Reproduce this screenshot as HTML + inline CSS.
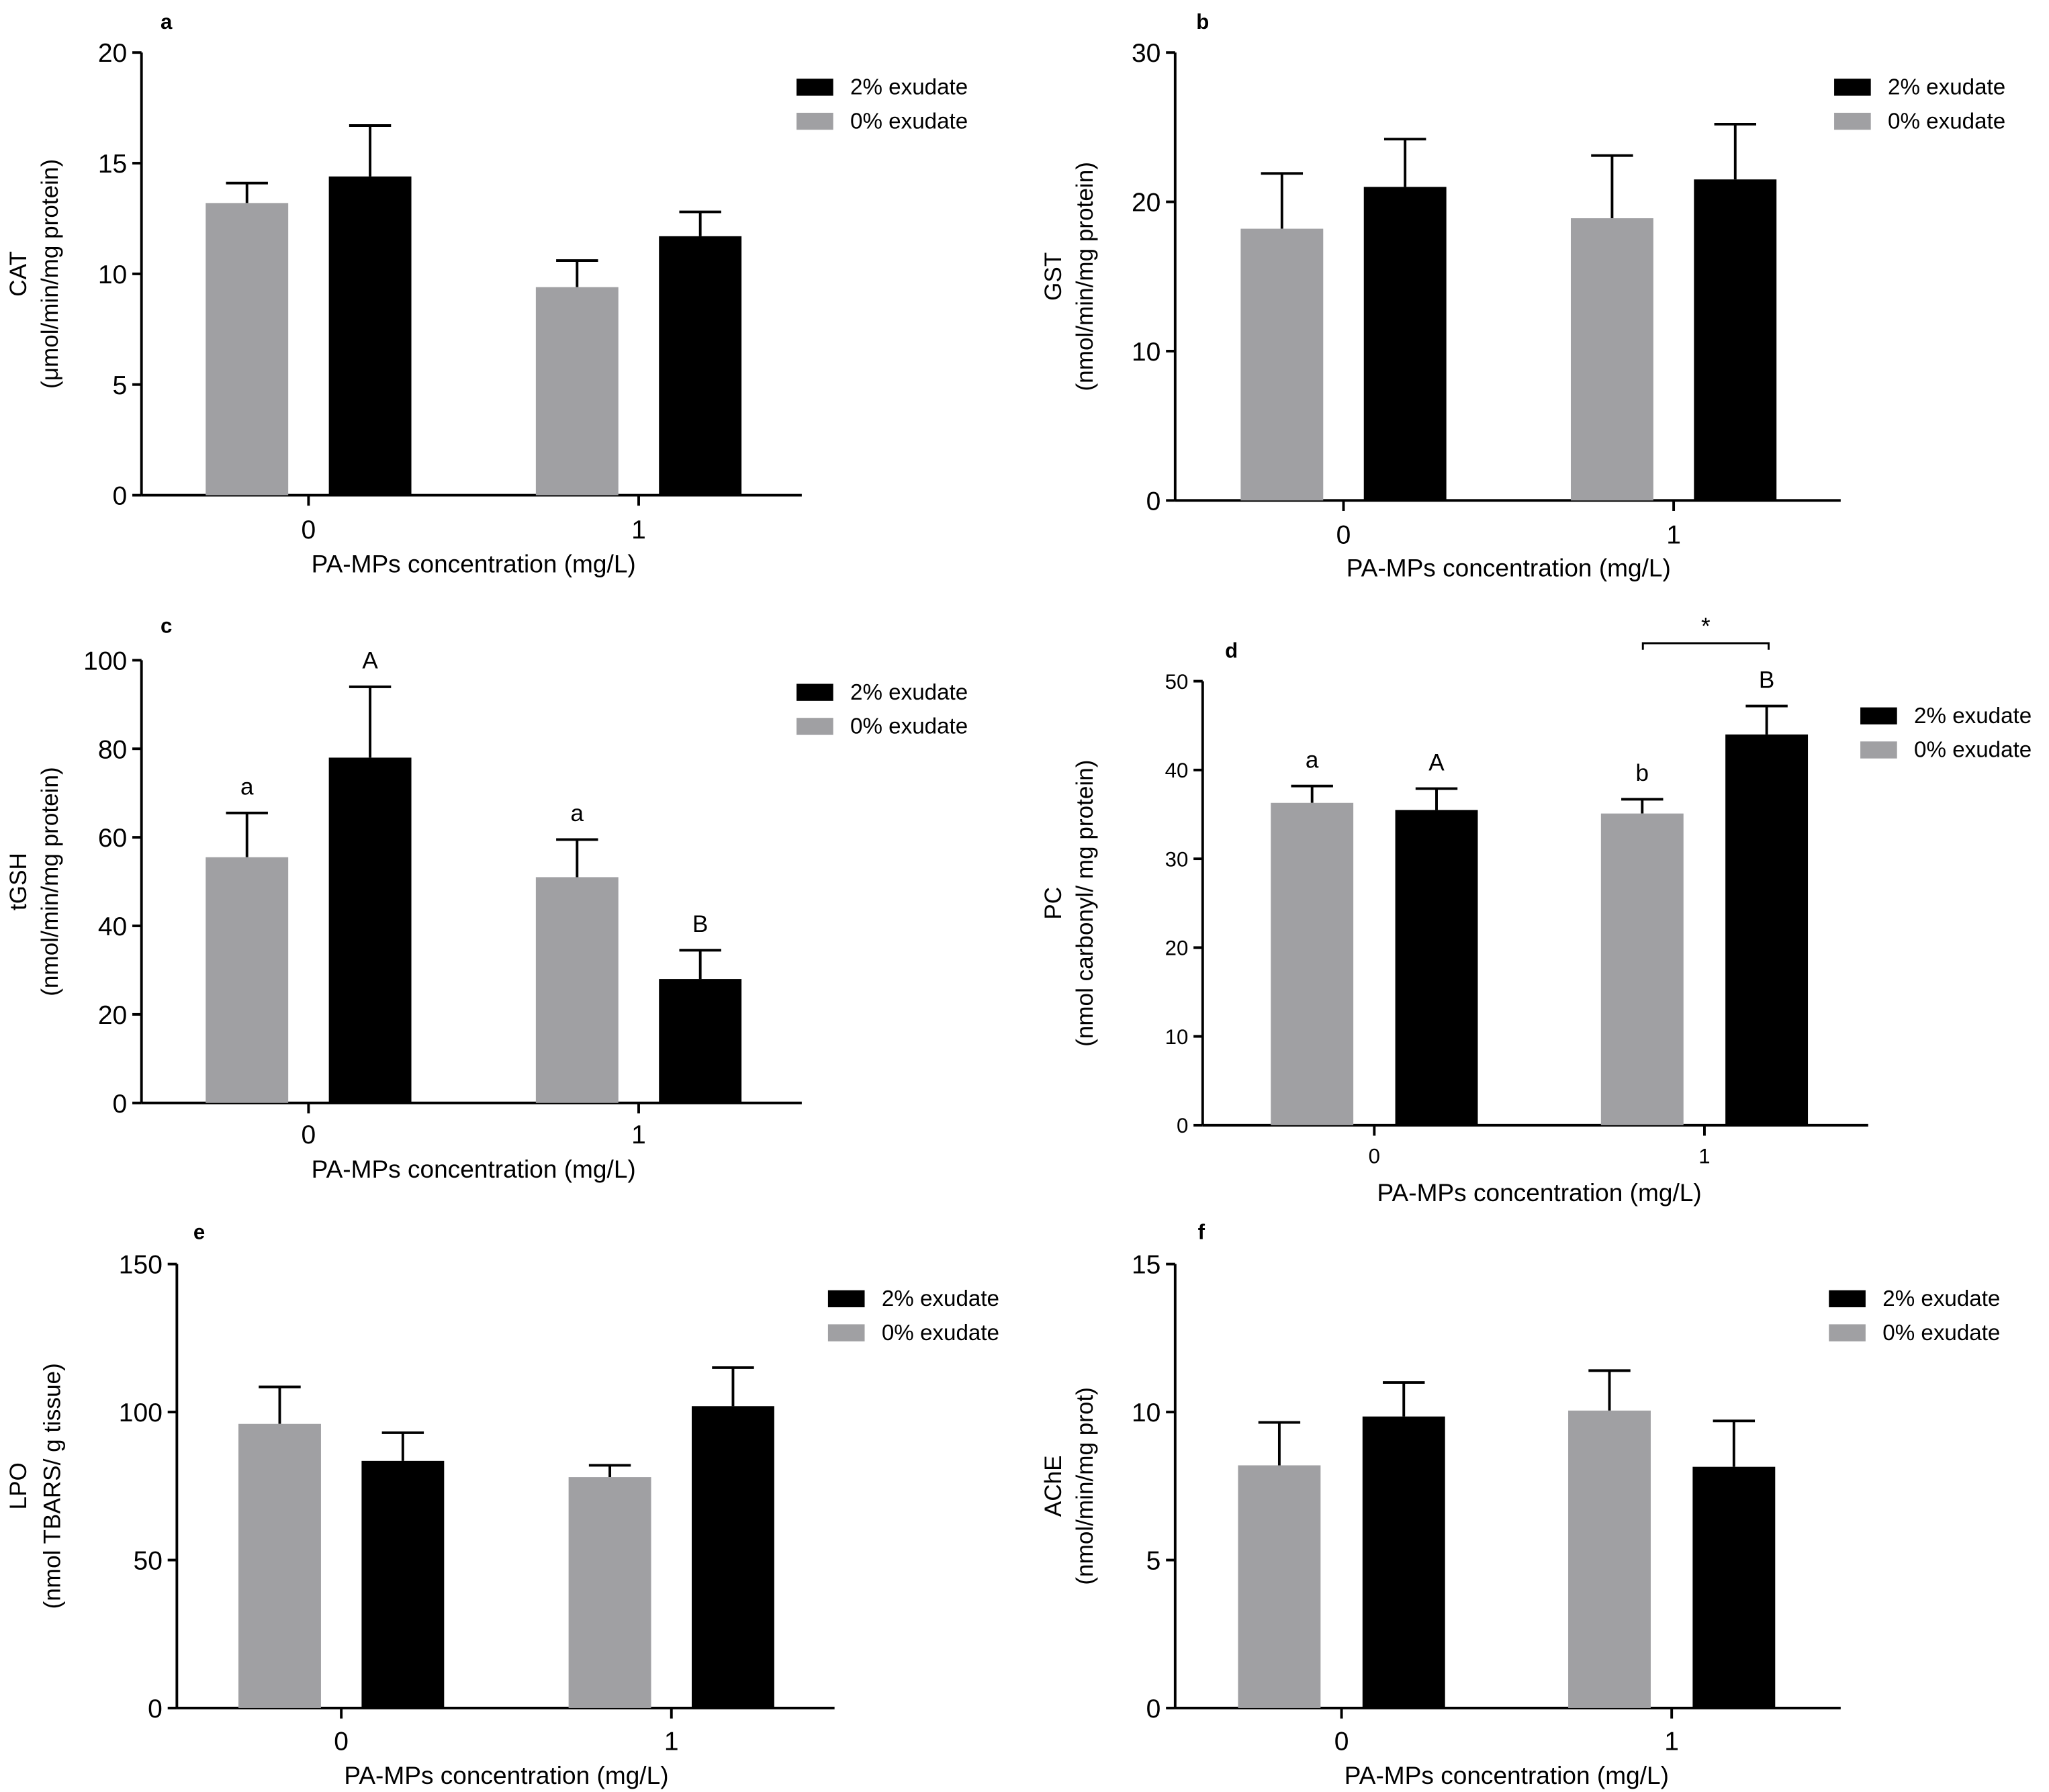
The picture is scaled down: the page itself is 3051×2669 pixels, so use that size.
<!DOCTYPE html>
<html><head><meta charset="utf-8"><style>html,body{margin:0;padding:0;background:#fff}svg{display:block}text{font-family:"Liberation Sans",sans-serif;fill:#000}</style></head>
<body>
<svg id="fig" width="3051" height="2669" viewBox="0 0 1564 1368" xmlns="http://www.w3.org/2000/svg"></svg>
<script>
const panelLetters=['a','b','c','d','e','f'];
const yTitles=[['CAT','(\u03bcmol/min/mg protein)'],['GST','(nmol/min/mg protein)'],['tGSH','(nmol/min/mg protein)'],['PC','(nmol carbonyl/ mg protein)'],['LPO','(nmol TBARS/ g tissue)'],['AChE','(nmol/min/mg prot)']];
const categories=['0','1'];
const yMaxs=[20,30,100,50,150,15];
const tickSteps=[5,10,20,10,50,5];
const gray0=[[13.2,9.4],[18.2,18.9],[55.5,51],[36.3,35.1],[96,78],[8.2,10.05]];
const grayErr=[[14.1,10.6],[21.9,23.1],[65.5,59.5],[38.2,36.7],[108.5,82],[9.65,11.4]];
const black2=[[14.4,11.7],[21,21.5],[78,28],[35.5,44],[83.5,102],[9.85,8.15]];
const blackErr=[[16.7,12.8],[24.2,25.2],[94,34.5],[37.9,47.2],[93,115],[11,9.7]];
const grayLetters=[null,null,['a','a'],['a','b'],null,null];
const blackLetters=[null,null,['A','B'],['A','B'],null,null];
// layout
const L=[
{ax:108,top:40,bot:378,end:612,g:[157,251],leg:608,legY:60,lab:[127,16],xl:437,tl:411,yl:[20,44],fs:20},
{ax:897,top:40,bot:382,end:1405,g:[947,1041],leg:1400,legY:60,lab:[918,16],xl:440,tl:415,yl:[810,834],fs:20},
{ax:108,top:504,bot:842,end:612,g:[157,251],leg:608,legY:522,lab:[127,477],xl:899,tl:873,yl:[20,44],fs:20},
{ax:918,top:520,bot:859,end:1426,g:[970,1065],leg:1420,legY:540,lab:[940,496],xl:917,tl:888,yl:[810,834],fs:16},
{ax:135,top:965,bot:1304,end:637,g:[182,276],leg:632,legY:985,lab:[152,940],xl:1362,tl:1336,yl:[20,46],fs:20},
{ax:897,top:965,bot:1304,end:1405,g:[945,1040],leg:1396,legY:985,lab:[917,940],xl:1362,tl:1336,yl:[810,834],fs:20}];
const NS='http://www.w3.org/2000/svg';
const svg=document.getElementById('fig');
function mk(t,a,p){const e=document.createElementNS(NS,t);for(const k in a)e.setAttribute(k,a[k]);(p||svg).appendChild(e);return e;}
L.forEach((c,i)=>{
 const g=mk('g',{});
 
 
 const y=v=>c.bot-(v/yMaxs[i])*(c.bot-c.top);
 const groupSpan=252;
 mk('line',{x1:c.ax,y1:c.top,x2:c.ax,y2:c.bot,stroke:'#000','stroke-width':2},g);
 mk('line',{x1:c.ax,y1:c.bot,x2:c.end,y2:c.bot,stroke:'#000','stroke-width':2},g);
 for(let v=0;v<=yMaxs[i];v+=tickSteps[i]){
  mk('line',{x1:c.ax-7,y1:y(v),x2:c.ax,y2:y(v),stroke:'#000','stroke-width':2},g);
  const t=mk('text',{x:c.ax-11,y:y(v)+c.fs*0.36,'text-anchor':'end','font-size':c.fs},g);t.textContent=v;
  
  
 }
 let centers=[];
 categories.forEach((cat,j)=>{
  const gx=c.g[0]+j*groupSpan, bx=c.g[1]+j*groupSpan, w=63;
  const cx=(gx+bx+w)/2; centers.push(cx);
  mk('line',{x1:cx,y1:c.bot,x2:cx,y2:c.bot+8,stroke:'#000','stroke-width':2},g);
  const t=mk('text',{x:cx,y:c.tl,'text-anchor':'middle','font-size':c.fs},g);t.textContent=cat;
  
  
  [[gx,gray0[i][j],grayErr[i][j],'#a0a0a3',grayLetters[i]],[bx,black2[i][j],blackErr[i][j],'#000',blackLetters[i]]].forEach(([x,v,e,col,lets],k)=>{
   mk('line',{x1:x+w/2,y1:y(v),x2:x+w/2,y2:y(e),stroke:'#000','stroke-width':2},g);
   mk('line',{x1:x+w/2-16,y1:y(e),x2:x+w/2+16,y2:y(e),stroke:'#000','stroke-width':2},g);
   const r=mk('rect',{x:x,y:y(v),width:w,height:c.bot-y(v),fill:col},g);
   
   
   if(lets){const l=mk('text',{x:x+w/2,y:y(e)-14,'text-anchor':'middle','font-size':18},g);l.textContent=lets[j];
    
    }
  });
 });
 if(i===3){mk('path',{d:'M1254 496 V491 H1350 V496',stroke:'#000',fill:'none','stroke-width':1.5},g);
  const s=mk('text',{x:1302,y:484,'text-anchor':'middle','font-size':18},g);s.textContent='*';
  
  }
 const xl=mk('text',{x:(centers[0]+centers[1])/2,y:c.xl,'text-anchor':'middle','font-size':19},g);xl.textContent='PA-MPs concentration (mg/L)';
 
 
 const my=(c.top+c.bot)/2;
 yTitles[i].forEach((s,k)=>{const t=mk('text',{x:c.yl[k],y:my,'text-anchor':'middle','font-size':18,transform:`rotate(-90 ${c.yl[k]} ${my})`},g);t.textContent=s;
  
  });
 const pl=mk('text',{x:c.lab[0],y:c.lab[1]+6,'font-size':16,'font-weight':'bold','text-anchor':'middle'},g);pl.textContent=panelLetters[i];
 
 
 [['#000','2% exudate'],['#a0a0a3','0% exudate']].forEach(([col,s],k)=>{
  const ly=c.legY+k*26;
  const r=mk('rect',{x:c.leg,y:ly,width:28,height:13,fill:col},g);
  
  
  const t=mk('text',{x:c.leg+41,y:ly+12,'font-size':17},g);t.textContent=s;
  
  
 });
});
</script>
</body></html>
